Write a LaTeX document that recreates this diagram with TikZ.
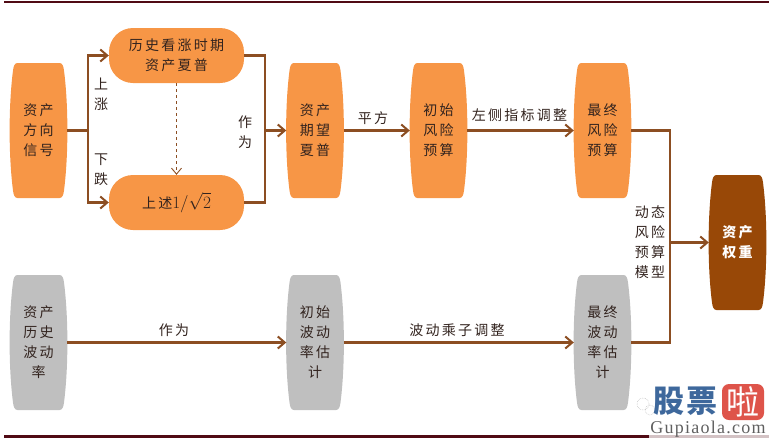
\documentclass[tikz,border=0pt]{standalone}
\usepackage[no-math]{fontspec}
\setmainfont[LetterSpace=16]{Noto Sans CJK SC}
\newfontfamily\wmfont[LetterSpace=7]{Liberation Serif}
\newfontfamily\plainfont{Noto Sans CJK SC}
\usetikzlibrary{arrows.meta}
\definecolor{orfill}{RGB}{247,150,70}
\definecolor{grfill}{RGB}{191,191,191}
\definecolor{brfill}{RGB}{152,72,7}
\definecolor{conn}{RGB}{140,78,34}
\definecolor{rulec}{RGB}{80,10,20}
\definecolor{txt}{RGB}{50,35,30}
\definecolor{wmblue}{RGB}{62,104,156}
\definecolor{wmred}{RGB}{222,84,74}
\newcommand{\barrelshape}[3]{%
  \fill[#3] (#1-21,#2-67.5) -- (#1+21,#2-67.5)
    .. controls (#1+24,#2-67.5) and (#1+25,#2-64) .. (#1+25.5,#2-60)
    .. controls (#1+30,#2-25) and (#1+30,#2+25) .. (#1+25.5,#2+60)
    .. controls (#1+25,#2+64) and (#1+24,#2+67.5) .. (#1+21,#2+67.5)
    -- (#1-21,#2+67.5)
    .. controls (#1-24,#2+67.5) and (#1-25,#2+64) .. (#1-25.5,#2+60)
    .. controls (#1-30,#2+25) and (#1-30,#2-25) .. (#1-25.5,#2-60)
    .. controls (#1-25,#2-64) and (#1-24,#2-67.5) .. (#1-21,#2-67.5) -- cycle;}
\tikzset{
  basetext/.style={font=\fontsize{14}{20}\selectfont,text=txt,align=center,inner sep=0pt},
  barrelbox/.style={basetext,minimum width=57pt,minimum height=135pt},
  pillbox/.style={basetext,fill=orfill,rounded corners=24pt,minimum width=135pt,minimum height=55pt},
  lab/.style={basetext},
  flow/.style={draw=conn,line width=2.4pt,-{Straight Barb[length=7pt,width=12pt,line width=2pt]}},
  link/.style={draw=conn,line width=2.4pt},
  dashlink/.style={draw=conn,line width=1pt,dashed,-{Straight Barb[length=6pt,width=10pt,line width=.9pt]}},
}
\begin{document}
\begin{tikzpicture}[x=1pt,y=-1pt]
\useasboundingbox (0,0) rectangle (769,440);
\fill[rulec] (4,1) rectangle (769,3);
\fill[rulec] (4,435) rectangle (649,437.5);
\fill[rulec!25] (649,435) rectangle (769,437.5);

\barrelshape{38.5}{130.5}{orfill}
\barrelshape{315}{130.5}{orfill}
\barrelshape{438.5}{130.5}{orfill}
\barrelshape{602.5}{130.5}{orfill}
\barrelshape{737.5}{242.5}{brfill}
\barrelshape{38.5}{342.5}{grfill}
\barrelshape{315}{342.5}{grfill}
\barrelshape{602.5}{342.5}{grfill}

\node[barrelbox] (sig) at (38.5,130.5) {资产\\方向\\信号};
\node[barrelbox] (exp) at (315,130.5) {资产\\期望\\夏普};
\node[barrelbox] (ini) at (438.5,130.5) {初始\\风险\\预算};
\node[barrelbox] (fin) at (602.5,130.5) {最终\\风险\\预算};
\node[barrelbox,text=white,font=\fontsize{14}{20}\selectfont\bfseries] (wgt) at (737.5,242.5) {资产\\权重};
\node[barrelbox] (his) at (38.5,342.5) {资产\\历史\\波动\\率};
\node[barrelbox] (iv) at (315,342.5) {初始\\波动\\率估\\计};
\node[barrelbox] (fv) at (602.5,342.5) {最终\\波动\\率估\\计};
\node[pillbox] (up) at (176.5,55.5) {历史看涨时期\\资产夏普};
\node[pillbox] (dn) at (176.5,202.5) {上述{\fontsize{17}{20}\selectfont$1/\sqrt{2}$}};

\coordinate (split) at (88,130.5);
\coordinate (merge) at (265,130.5);
\coordinate (bus) at (670,242.5);

\draw[link] (sig.east) -- (split);
\draw[flow] (split) |- (up.west);
\draw[flow] (split) |- (dn.west);
\draw[link] (up.east) -| (merge);
\draw[link] (dn.east) -| (merge);
\draw[flow] (merge) -- (exp.west);
\draw[dashlink] (up.south) -- (dn.north);
\draw[flow] (exp.east) -- (ini.west);
\draw[flow] (ini.east) -- (fin.west);
\draw[link] (fin.east) -| (bus);
\draw[link] (fv.east) -| (bus);
\draw[flow] (bus) -- (wgt.west);
\draw[flow] (his.east) -- (iv.west);
\draw[flow] (iv.east) -- (fv.west);

\node[lab] (l1) at (101,94) {上\\涨};
\node[lab] (l2) at (101,170) {下\\跌};
\node[lab] (l3) at (245,132.5) {作\\为};
\node[lab] (l4) at (373,118) {平方};
\node[lab] (l5) at (519.5,115) {左侧指标调整};
\node[lab] (l6) at (174,330) {作为};
\node[lab] (l7) at (457,330) {波动乘子调整};
\node[lab] (l8) at (650,242.5) {动态\\风险\\预算\\模型};

% watermark
\draw[gray!45,densely dotted,line width=.6pt] (643,404) circle (6pt);
\draw[gray!45,densely dotted,line width=.6pt] (650,410) circle (5pt);
\node[inner sep=0pt,text=wmblue,font=\plainfont\fontsize{31}{31}\selectfont\bfseries] (wm1) at (669,401) {股};
\node[inner sep=0pt,text=wmblue,font=\plainfont\fontsize{31}{31}\selectfont\bfseries] (wm2) at (702,401) {票};
\fill[wmred,rounded corners=7pt] (722,384) rectangle (764,420);
\node[inner sep=0pt,text=white,font=\plainfont\fontsize{33}{33}\selectfont] (wm3) at (743,402) {啦};
\node[inner sep=0pt,text=gray!75!black,font=\wmfont\fontsize{18}{18}\selectfont] (wm4) at (708,429) {Gupiaola.com};
\end{tikzpicture}
\end{document}
